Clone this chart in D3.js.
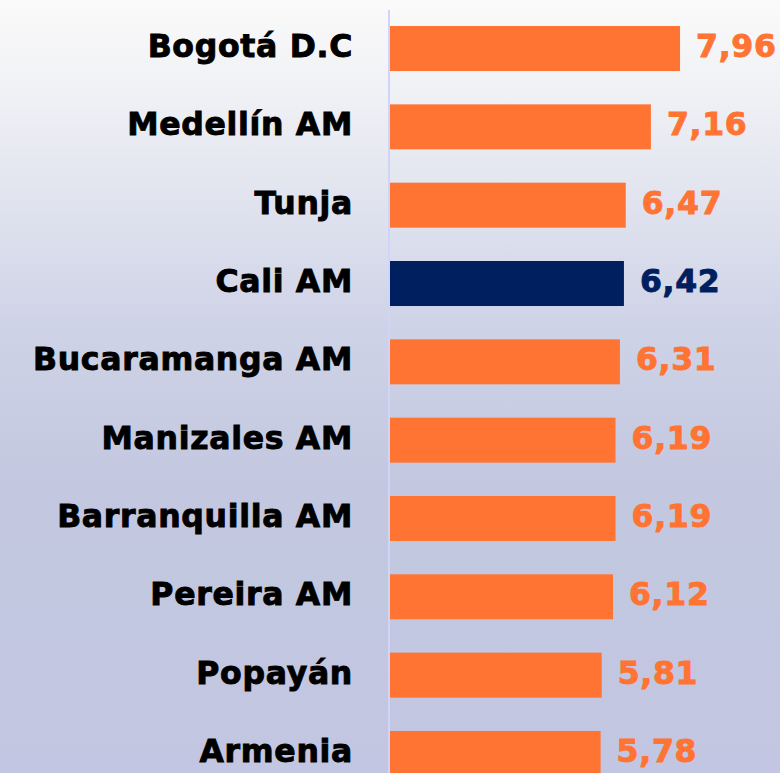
<!DOCTYPE html>
<meta charset="utf-8">
<style>
  html, body { margin: 0; padding: 0; }
  body { width: 780px; height: 773px; overflow: hidden; }
  .label { font-family: "DejaVu Sans", sans-serif; font-weight: bold; font-size: 31.5px; letter-spacing: 0.7px; stroke-width: 0.9px; }
</style>
<body>
<div id="chart"></div>
<script src="https://d3js.org/d3.v7.min.js"></script>
<script>
  const cities = ["Bogotá D.C", "Medellín AM", "Tunja", "Cali AM", "Bucaramanga AM",
    "Manizales AM", "Barranquilla AM", "Pereira AM", "Popayán", "Armenia"];
  const scores = [7.96, 7.16, 6.47, 6.42, 6.31, 6.19, 6.19, 6.12, 5.81, 5.78];
  const highlighted = ["Cali AM"];

  const width = 780;
  const height = 773;
  const orange = "#ff7333";
  const navy = "#001f5f";

  const rows = cities.map((c, i) => ({city: c, value: scores[i]}));

  const svg = d3.select("#chart").append("svg")
    .attr("width", width)
    .attr("height", height);

  // background gradient
  const grad = svg.append("defs").append("linearGradient")
    .attr("id", "bg")
    .attr("x1", 0).attr("y1", 0).attr("x2", 0).attr("y2", 1);
  [[0, "#fafafa"], [0.12, "#f0f1f5"], [0.42, "#cfd3e7"], [0.62, "#c3c8e0"], [1, "#c2c6e2"]]
    .forEach(([o, c]) => grad.append("stop").attr("offset", o).attr("stop-color", c));

  svg.append("rect")
    .attr("width", width)
    .attr("height", height)
    .attr("fill", "url(#bg)");

  const x = d3.scaleLinear().domain([0, 8]).range([390, 681.5]);
  const y = d3.scaleBand()
    .domain(cities)
    .range([-7.3, 809.3])
    .padding(0.4255);

  const fmt = d3.formatLocale({decimal: ",", thousands: ".", grouping: [3], currency: ["", ""]}).format(".2f");

  // axis line
  svg.append("line")
    .attr("x1", 389).attr("x2", 389)
    .attr("y1", 10).attr("y2", height)
    .attr("stroke", "#d0d4f6")
    .attr("stroke-width", 2);

  const colour = d => highlighted.includes(d.city) ? navy : orange;

  svg.selectAll(".bar")
    .data(rows)
    .join("rect")
    .attr("class", "bar")
    .attr("x", x(0))
    .attr("y", d => y(d.city))
    .attr("width", d => x(d.value) - x(0))
    .attr("height", y.bandwidth())
    .attr("fill", colour);

  const baseline = d => y(d.city) + y.bandwidth() / 2 + 8.5;

  svg.selectAll(".city")
    .data(rows)
    .join("text")
    .attr("class", "label city")
    .attr("x", 353)
    .attr("y", baseline)
    .attr("text-anchor", "end")
    .attr("fill", "#000")
    .attr("stroke", "#000")
    .text(d => d.city);

  svg.selectAll(".value")
    .data(rows)
    .join("text")
    .attr("class", "label value")
    .attr("x", d => x(d.value) + 16)
    .attr("y", baseline)
    .attr("fill", colour)
    .attr("stroke", colour)
    .text(d => fmt(d.value));
</script>
</body>
